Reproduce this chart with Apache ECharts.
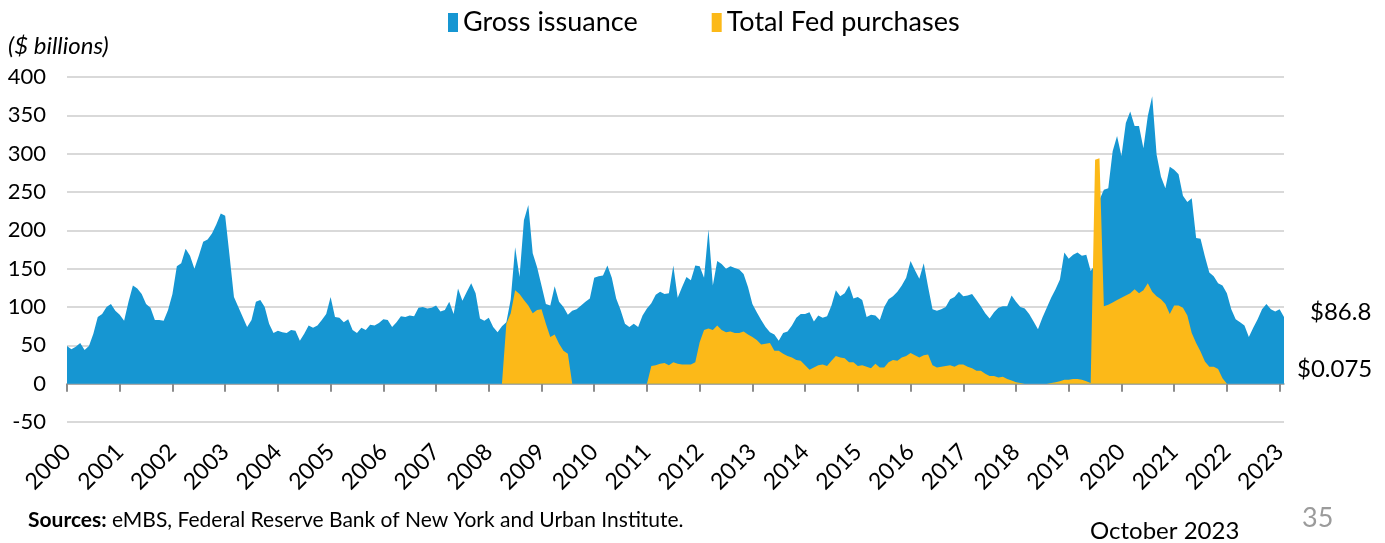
<!DOCTYPE html>
<html>
<head>
<meta charset="utf-8">
<script src="https://cdn.jsdelivr.net/npm/echarts@6/dist/echarts.min.js"></script>
<style>
  html, body { margin: 0; padding: 0; background: #fff; }
  #chart { width: 1385px; height: 543px; }
</style>
</head>
<body>
<div id="chart"></div>
<script>
// Monthly agency MBS gross issuance vs. total Fed purchases ($ billions)
const startYear = 2000;
const monthCount = 278;
const yTicks = { min: -50, max: 400, step: 50 };

// Gross issuance, one row per year (Jan..Dec)
const grossIssuance = [
  49, 45, 48, 53, 44, 49, 65, 87, 91, 100, 104, 95,          // 2000
  90, 82, 107, 128, 124, 117, 104, 99, 83, 83, 82, 96,       // 2001
  117, 153, 157, 176, 167, 150, 167, 185, 188, 196, 208, 222,// 2002
  219, 167, 113, 100, 87, 74, 83, 107, 109, 100, 78, 66,     // 2003
  69, 67, 66, 70, 69, 56, 65, 76, 73, 76, 83, 91,            // 2004
  113, 87, 86, 80, 84, 70, 66, 73, 70, 77, 76, 79,           // 2005
  84, 83, 74, 80, 88, 87, 89, 88, 99, 100, 98, 99,           // 2006
  102, 94, 96, 107, 91, 124, 108, 120, 131, 118, 85, 82,     // 2007
  86, 74, 67, 75, 80, 110, 178, 139, 213, 233, 170, 152,     // 2008
  128, 104, 102, 127, 107, 100, 90, 95, 97, 102, 107, 111,   // 2009
  138, 140, 141, 154, 138, 111, 96, 78, 74, 78, 74, 89,      // 2010
  98, 105, 116, 120, 117, 118, 154, 112, 126, 139, 135, 154, // 2011
  153, 138, 201, 128, 160, 156, 150, 153, 151, 149, 143, 126,// 2012
  104, 93, 83, 74, 67, 64, 56, 66, 68, 76, 86, 91,           // 2013
  91, 93, 81, 89, 86, 88, 102, 122, 114, 118, 128, 111,      // 2014
  113, 109, 87, 90, 89, 83, 100, 110, 114, 120, 128, 138,    // 2015
  160, 148, 137, 157, 126, 97, 95, 97, 100, 110, 113, 120,   // 2016
  114, 115, 117, 109, 101, 92, 85, 93, 99, 101, 101, 115,    // 2017
  107, 100, 98, 91, 81, 71, 86, 99, 112, 123, 136, 171,      // 2018
  163, 168, 171, 167, 168, 147, 155, 240, 253, 255, 303, 323,// 2019
  297, 340, 355, 336, 336, 307, 349, 375, 299, 270, 255, 283,// 2020
  279, 273, 245, 237, 242, 190, 189, 166, 145, 140, 131, 128,// 2021
  118, 97, 84, 80, 76, 61, 73, 84, 97, 104, 97, 94,          // 2022
  97, 86.8                                                   // 2023
];

// Total Fed purchases, one row per year (Jan..Dec)
const fedPurchases = [
  0, 0, 0, 0, 0, 0, 0, 0, 0, 0, 0, 0,                        // 2000
  0, 0, 0, 0, 0, 0, 0, 0, 0, 0, 0, 0,                        // 2001
  0, 0, 0, 0, 0, 0, 0, 0, 0, 0, 0, 0,                        // 2002
  0, 0, 0, 0, 0, 0, 0, 0, 0, 0, 0, 0,                        // 2003
  0, 0, 0, 0, 0, 0, 0, 0, 0, 0, 0, 0,                        // 2004
  0, 0, 0, 0, 0, 0, 0, 0, 0, 0, 0, 0,                        // 2005
  0, 0, 0, 0, 0, 0, 0, 0, 0, 0, 0, 0,                        // 2006
  0, 0, 0, 0, 0, 0, 0, 0, 0, 0, 0, 0,                        // 2007
  0, 0, 0, 0, 78, 92, 122, 117, 109, 102, 92, 96,            // 2008
  97, 78, 61, 64, 52, 43, 39, 0, 0, 0, 0, 0,                 // 2009
  0, 0, 0, 0, 0, 0, 0, 0, 0, 0, 0, 0,                        // 2010
  0, 23, 24, 26, 27, 24, 28, 26, 25, 25, 25, 28,             // 2011
  54, 70, 72, 70, 76, 70, 67, 68, 66, 66, 68, 64,            // 2012
  61, 57, 51, 52, 53, 43, 43, 39, 36, 34, 31, 30,            // 2013
  24, 18, 21, 24, 25, 23, 30, 36, 34, 33, 28, 28,            // 2014
  23, 24, 22, 20, 26, 21, 21, 28, 31, 30, 34, 36,            // 2015
  40, 37, 34, 37, 38, 24, 21, 22, 23, 24, 22, 25,            // 2016
  25, 22, 20, 17, 17, 13, 10, 10, 8, 9, 6, 4,                // 2017
  2, 1, 0, 0, 0, 0, 0, 0, 1, 2, 3, 5,                        // 2018
  5, 6, 6, 5, 3, 1, 292, 294, 101, 103, 106, 109,            // 2019
  112, 115, 118, 123, 118, 122, 131, 120, 114, 110, 104, 91, // 2020
  102, 102, 99, 89, 66, 53, 42, 29, 22, 22, 19, 7,           // 2021
  0, 0, 0, 0, 0, 0, 0, 0, 0, 0, 0, 0,                        // 2022
  0, 0.075                                                   // 2023
];

// Month categories "YYYY-MM"
const months = [];
for (let i = 0; i < monthCount; i++) {
  const y = startYear + Math.floor(i / 12);
  const m = (i % 12) + 1;
  months.push(y + '-' + (m < 10 ? '0' + m : m));
}

const BLUE = '#1696d2';
const YELLOW = '#fcb918';
const FONT = 'Lato, "Open Sans", sans-serif';
const isJanuary = (idx) => idx % 12 === 0;

const chart = echarts.init(document.getElementById('chart'), null, { renderer: 'canvas' });

chart.setOption({
  animation: false,
  backgroundColor: '#ffffff',
  textStyle: { fontFamily: FONT },
  grid: { left: 67, right: 101, top: 77, bottom: 121, containLabel: false },
  legend: {
    left: 443,
    top: 4,
    itemWidth: 10,
    itemHeight: 19,
    itemGap: 74,
    icon: 'rect',
    textStyle: { fontFamily: FONT, fontSize: 27, color: '#000' },
    data: ['Gross issuance', 'Total Fed purchases']
  },
  xAxis: {
    type: 'category',
    data: months,
    boundaryGap: false,
    axisLine: { onZero: true, lineStyle: { color: '#9a9a9a', width: 1.5 } },
    axisTick: {
      show: true,
      interval: (idx) => isJanuary(idx),
      length: 8,
      lineStyle: { color: '#8c8c8c', width: 2 }
    },
    axisLabel: {
      interval: (idx) => isJanuary(idx),
      formatter: (v) => v.slice(0, 4),
      rotate: 45,
      margin: 26,
      fontFamily: FONT,
      fontSize: 23,
      color: '#000'
    },
    splitLine: { show: false }
  },
  yAxis: {
    type: 'value',
    min: yTicks.min,
    max: yTicks.max,
    interval: yTicks.step,
    axisLine: { show: false },
    axisTick: { show: false },
    axisLabel: { fontFamily: FONT, fontSize: 22, color: '#000', margin: 21 },
    splitLine: { lineStyle: { color: '#d9d9d9', width: 2 } }
  },
  graphic: [
    {
      type: 'text', left: 8, top: 34,
      style: { text: '($ billions)', fontFamily: FONT, fontSize: 24, fontStyle: 'italic', fill: '#000' }
    },
    {
      type: 'text', left: 28, top: 510,
      style: {
        text: '{b|Sources:} eMBS, Federal Reserve Bank of New York and Urban Institute.',
        fontFamily: FONT, fontSize: 21, fill: '#000',
        rich: { b: { fontFamily: FONT, fontSize: 21, fontWeight: 'bold', fill: '#000' } }
      }
    },
    {
      type: 'text', left: 1090, top: 519,
      style: { text: 'October 2023', fontFamily: FONT, fontSize: 24, fill: '#000' }
    },
    {
      type: 'text', left: 1302, top: 505,
      style: { text: '35', fontFamily: FONT, fontSize: 27, fill: '#9b9b9b' }
    }
  ],
  series: [
    {
      name: 'Gross issuance',
      type: 'line',
      data: grossIssuance,
      symbol: 'none',
      color: BLUE,
      lineStyle: { width: 0 },
      areaStyle: { color: BLUE, opacity: 1 },
      endLabel: {
        show: true,
        formatter: (p) => '$' + p.value,
        fontFamily: FONT, fontSize: 24, color: '#000',
        distance: 26,
        offset: [0, -5]
      },
      z: 2
    },
    {
      name: 'Total Fed purchases',
      type: 'line',
      data: fedPurchases,
      symbol: 'none',
      color: YELLOW,
      lineStyle: { width: 0 },
      areaStyle: { color: YELLOW, opacity: 1 },
      endLabel: {
        show: true,
        formatter: (p) => '$' + p.value,
        fontFamily: FONT, fontSize: 24, color: '#000',
        distance: 13,
        offset: [0, -14]
      },
      z: 3
    }
  ]
});
</script>
</body>
</html>
